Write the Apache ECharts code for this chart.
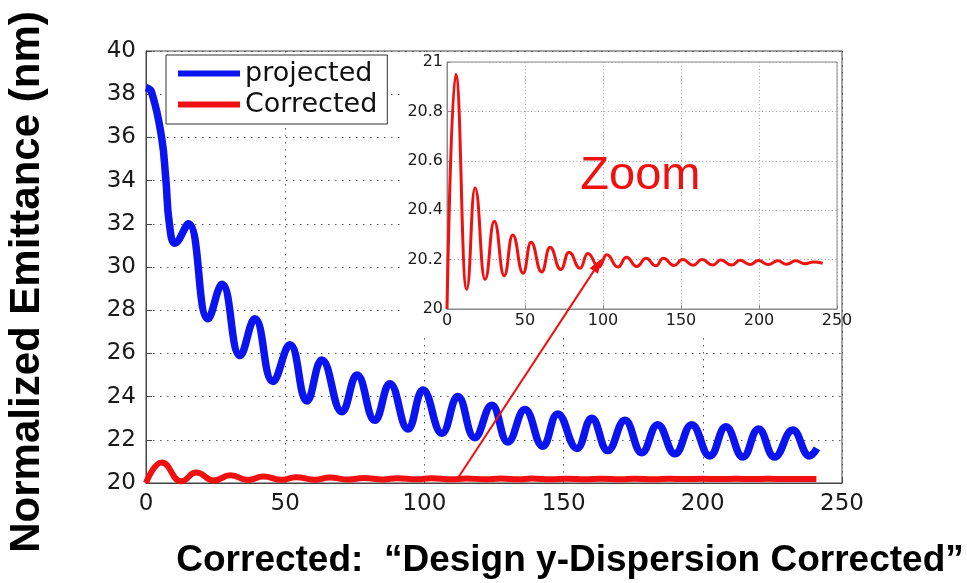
<!DOCTYPE html>
<html>
<head>
<meta charset="utf-8">
<script src="https://cdn.jsdelivr.net/npm/echarts@6/dist/echarts.min.js"></script>
<style>
  html, body { margin: 0; padding: 0; background: #fff; }
  #chart { width: 967px; height: 583px; }
</style>
</head>
<body>
<div id="chart"></div>
<script>
// Projected emittance along the lattice (turning points of the oscillation)
const projX = [0, 2, 5.6, 7.1, 8.4, 10.4, 15.2, 22.3, 27.3, 33.8, 39.1, 45.6, 51.7, 57.8, 63.2, 70.4, 75.8,
  82.2, 87.6, 94.1, 99.5, 106.3, 112, 118.1, 124.2, 130, 136.1, 142.5, 147.9, 154.8, 160.1, 165.9,
  172, 178.1, 183.8, 190, 196, 202.5, 208.3, 214.4, 220, 225.8, 232.3, 238.4, 241];
const projY = [38.3, 38.1, 36.0, 34.1, 32.0, 31.1, 32.0, 27.6, 29.2, 25.9, 27.6, 24.7, 26.4, 23.8, 25.7, 23.3, 25.0,
  22.9, 24.6, 22.5, 24.3, 22.3, 24.0, 22.1, 23.6, 21.9, 23.4, 21.7, 23.2, 21.6, 23.0, 21.5,
  22.9, 21.4, 22.7, 21.35, 22.7, 21.25, 22.6, 21.2, 22.5, 21.2, 22.45, 21.25, 21.6];

// Emittance after the dispersion correction
const corrX = [0, 5.6, 12.6, 18, 24.4, 30.3, 36.7, 42.1, 48.8, 53.8, 60.7, 66, 72.9, 78.2, 85.3, 90.2,
  97.4, 102.4, 109.6, 115, 121.6, 127.6, 133.9, 138.6, 145.5, 151, 157.9, 163.4, 170.4, 175.4,
  182.5, 187.8, 194.2, 199.6, 206, 212, 217.7, 223.6, 229.4, 234.8, 240.8];
const corrY = [20.0, 20.95, 20.08, 20.49, 20.12, 20.355, 20.135, 20.3, 20.145, 20.27, 20.15, 20.25, 20.16, 20.23, 20.165, 20.225,
  20.17, 20.22, 20.17, 20.21, 20.172, 20.205, 20.175, 20.205, 20.176, 20.2, 20.177, 20.2, 20.178, 20.198,
  20.178, 20.197, 20.18, 20.196, 20.18, 20.195, 20.181, 20.195, 20.183, 20.19, 20.185];

// Axis ticks
const xTicks = [0, 50, 100, 150, 200, 250];
const mainYTicks = [20, 22, 24, 26, 28, 30, 32, 34, 36, 38, 40];
const insetYTicks = [20, 20.2, 20.4, 20.6, 20.8, 21];

// Texts
const seriesNames = ['projected', 'Corrected'];
const yTitle = 'Normalized Emittance (nm)';
const bottomTitle = 'Corrected:  \u201CDesign y-Dispersion Corrected\u201D';
const zoomLabel = 'Zoom';

// Pointer from the main curve to the magnified view
const arrowFrom = [112, 20.22];   // main axes
const arrowTo = [99.4, 20.205];   // inset axes

const BLUE = '#0a14f0';
const RED = '#f01010';
const TICK_FONT = 'DejaVu Sans';

const pairs = (xs, ys) => xs.map((x, i) => [x, ys[i]]);
const step = t => t[1] - t[0];
const fmt = v => String(+(+v).toFixed(1));

const chart = echarts.init(document.getElementById('chart'), null, { renderer: 'canvas' });

const dotted = (color, dash) => ({ show: true, lineStyle: { color, width: 1, type: dash } });

const option = {
  animation: false,
  backgroundColor: '#fff',
  grid: [
    { left: 146, right: 125, top: 51, bottom: 100, show: true, borderColor: '#444', borderWidth: 1, z: 0 },
    { left: 447, right: 130, top: 62, bottom: 274, show: true, borderColor: '#8a8a8a', borderWidth: 1,
      backgroundColor: '#fff', z: 3 }
  ],
  xAxis: [
    {
      type: 'value', gridIndex: 0, min: xTicks[0], max: xTicks[xTicks.length - 1], interval: step(xTicks),
      axisLine: { show: true, onZero: false, lineStyle: { color: '#444' } },
      axisTick: { show: true, inside: true, length: 6, lineStyle: { color: '#444' } },
      axisLabel: { color: '#1a1a1a', fontFamily: TICK_FONT, fontSize: 23, margin: 10 },
      splitLine: dotted('#555', [1.5, 5.5])
    },
    {
      type: 'value', gridIndex: 1, min: xTicks[0], max: xTicks[xTicks.length - 1], interval: step(xTicks), z: 3,
      axisLine: { show: true, onZero: false, lineStyle: { color: '#8a8a8a' } },
      axisTick: { show: true, inside: true, length: 4, lineStyle: { color: '#8a8a8a' } },
      axisLabel: { color: '#1a1a1a', fontFamily: TICK_FONT, fontSize: 16, margin: 4 },
      splitLine: dotted('#a0a0a0', [1, 2.5])
    }
  ],
  yAxis: [
    {
      type: 'value', gridIndex: 0, min: mainYTicks[0], max: mainYTicks[mainYTicks.length - 1], interval: step(mainYTicks),
      axisLine: { show: true, onZero: false, lineStyle: { color: '#444' } },
      axisTick: { show: true, inside: true, length: 6, lineStyle: { color: '#444' } },
      axisLabel: { color: '#1a1a1a', fontFamily: TICK_FONT, fontSize: 23, margin: 10 },
      splitLine: dotted('#555', [1.5, 5.5])
    },
    {
      type: 'value', gridIndex: 1, min: insetYTicks[0], max: insetYTicks[insetYTicks.length - 1],
      interval: +(insetYTicks[1] - insetYTicks[0]).toFixed(1), z: 3,
      axisLine: { show: true, onZero: false, lineStyle: { color: '#8a8a8a' } },
      axisTick: { show: true, inside: true, length: 4, lineStyle: { color: '#8a8a8a' } },
      axisLabel: { color: '#1a1a1a', fontFamily: TICK_FONT, fontSize: 16, margin: 4, formatter: fmt },
      splitLine: dotted('#a0a0a0', [1, 2.5])
    }
  ],
  legend: {
    data: seriesNames,
    orient: 'vertical',
    left: 166, top: 55,
    padding: [5, 10, 6, 12],
    itemWidth: 62, itemHeight: 6, itemGap: 4, itemTextGap: 5,
    icon: 'rect',
    backgroundColor: '#fff',
    borderColor: '#333', borderWidth: 1,
    textStyle: { fontFamily: TICK_FONT, fontSize: 27, lineHeight: 26, color: '#111' }
  },
  series: [
    {
      name: seriesNames[0], type: 'line', xAxisIndex: 0, yAxisIndex: 0,
      data: pairs(projX, projY), smooth: 0.45, showSymbol: false, symbol: 'none',
      lineStyle: { color: BLUE, width: 7.5 }, itemStyle: { color: BLUE }, z: 2
    },
    {
      name: seriesNames[1], type: 'line', xAxisIndex: 0, yAxisIndex: 0,
      data: pairs(corrX, corrY), smooth: 0.5, smoothMonotone: 'x', showSymbol: false, symbol: 'none',
      lineStyle: { color: RED, width: 6 }, itemStyle: { color: RED }, z: 2
    },
    {
      name: 'inset', type: 'line', xAxisIndex: 1, yAxisIndex: 1,
      data: pairs(corrX, corrY), smooth: 0.5, smoothMonotone: 'x', showSymbol: false, symbol: 'none',
      lineStyle: { color: RED, width: 3 }, itemStyle: { color: RED }, z: 5
    }
  ]
};

chart.setOption(option);

// Overlay: panel behind the inset, axis title, caption, pointer and label
const p0 = chart.convertToPixel({ gridIndex: 0 }, arrowFrom);
const p1 = chart.convertToPixel({ gridIndex: 1 }, arrowTo);
const dx = p1[0] - p0[0], dy = p1[1] - p0[1];
const len = Math.hypot(dx, dy);
const ux = dx / len, uy = dy / len;
const headLen = 15, headHalf = 5;
const base = [p1[0] - ux * headLen, p1[1] - uy * headLen];
const zoomPos = chart.convertToPixel({ gridIndex: 1 }, [124, 20.54]);

chart.setOption({
  graphic: [
    { type: 'rect', z: 1, silent: true, shape: { x: 401, y: 52, width: 440, height: 283 }, style: { fill: '#fff' } },
    { type: 'text', z: 10, x: 27, y: 282, rotation: Math.PI / 2,
      style: { text: yTitle, font: 'bold 42px "Liberation Sans", Arial, sans-serif', fill: '#000',
               align: 'center', verticalAlign: 'middle' } },
    { type: 'text', z: 10, x: 570, y: 561,
      style: { text: bottomTitle, font: 'bold 37px "Liberation Sans", Arial, sans-serif', fill: '#000',
               align: 'center', verticalAlign: 'middle' } },
    { type: 'text', z: 10, x: zoomPos[0], y: zoomPos[1],
      style: { text: zoomLabel, font: '47px "Liberation Sans", Arial, sans-serif', fill: RED,
               align: 'center', verticalAlign: 'middle' } },
    { type: 'line', z: 10, shape: { x1: p0[0], y1: p0[1], x2: base[0], y2: base[1] },
      style: { stroke: RED, lineWidth: 2 } },
    { type: 'polygon', z: 10,
      shape: { points: [p1, [base[0] - uy * headHalf, base[1] + ux * headHalf], [base[0] + uy * headHalf, base[1] - ux * headHalf]] },
      style: { fill: RED } }
  ]
});
</script>
</body>
</html>
